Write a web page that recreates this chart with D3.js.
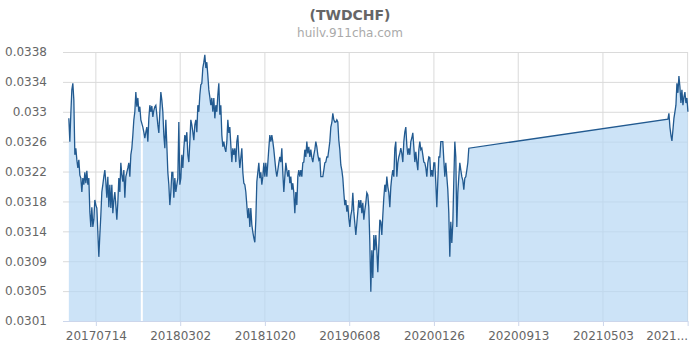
<!DOCTYPE html>
<html>
<head>
<meta charset="utf-8">
<script src="https://cdn.jsdelivr.net/npm/d3@7/dist/d3.min.js"></script>
<style>
body { margin: 0; background: #fff; }
text { font-family: "DejaVu Sans", sans-serif; }
</style>
</head>
<body>
<div id="chart"></div>
<script>
var title = "(TWDCHF)";
var subtitle = "huilv.911cha.com";

// x domain and the two runs of quotes (one every ~2.7 days)
var xStart = "20170415", xEnd = "20211222";
var startA = "20170501", startB = "20211028";
var stepDays = 2.739;

var ratesA = [
  0.03290,0.03258,0.03297,0.03329,0.03338,0.03315,0.03240,0.03249,0.03233,0.03222,0.03233,0.03212,0.03208,0.03189,0.03208,0.03199,0.03216,0.03201,0.03218,0.03199,
  0.03208,0.03162,0.03141,0.03168,0.03141,0.03151,0.03178,0.03171,0.03167,0.03134,0.03100,0.03130,0.03157,0.03189,0.03199,0.03210,0.03219,0.03203,0.03181,0.03210,
  0.03168,0.03199,0.03167,0.03199,0.03160,0.03178,0.03189,0.03171,0.03151,0.03175,0.03208,0.03189,0.03229,0.03212,0.03203,0.03219,0.03181,0.03210,0.03216,0.03222,
  0.03229,0.03210,0.03240,0.03249,0.03267,0.03288,0.03299,0.03326,0.03306,0.03318,0.03299,0.03306,0.03288,null,0.03278,0.03271,0.03263,0.03271,0.03278,0.03258,
  0.03290,0.03308,0.03299,0.03307,0.03292,0.03301,0.03306,0.03308,0.03295,0.03281,0.03270,0.03299,0.03326,0.03315,0.03299,0.03267,0.03249,0.03288,0.03253,0.03216,
  0.03199,0.03171,0.03189,0.03216,0.03216,0.03181,0.03208,0.03189,0.03199,0.03208,0.03285,0.03199,0.03208,0.03240,0.03222,0.03249,0.03267,0.03258,0.03271,0.03240,
  0.03230,0.03258,0.03288,0.03281,0.03271,0.03260,0.03281,0.03288,0.03271,0.03308,0.03299,0.03322,0.03336,0.03338,0.03359,0.03367,0.03377,0.03359,0.03367,0.03349,
  0.03329,0.03319,0.03308,0.03318,0.03299,0.03318,0.03290,0.03308,0.03299,0.03322,0.03338,0.03295,0.03308,0.03267,0.03251,0.03258,0.03249,0.03244,0.03258,0.03288,
  0.03270,0.03278,0.03253,0.03230,0.03249,0.03240,0.03249,0.03230,0.03258,0.03267,0.03240,0.03222,0.03236,0.03249,0.03216,0.03201,0.03199,0.03189,0.03171,0.03153,
  0.03167,0.03141,0.03167,0.03144,0.03134,0.03126,0.03120,0.03151,0.03203,0.03216,0.03229,0.03208,0.03216,0.03199,0.03210,0.03229,0.03210,0.03229,0.03210,0.03229,
  0.03249,0.03267,0.03258,0.03267,0.03258,0.03247,0.03233,0.03219,0.03210,0.03219,0.03229,0.03237,0.03230,0.03249,0.03215,0.03189,0.03210,0.03229,0.03219,0.03210,
  0.03219,0.03201,0.03210,0.03192,0.03201,0.03188,0.03160,0.03189,0.03171,0.03210,0.03219,0.03210,0.03219,0.03210,0.03229,0.03230,0.03247,0.03237,0.03258,0.03242,
  0.03251,0.03237,0.03247,0.03236,0.03230,0.03240,0.03247,0.03258,0.03251,0.03240,0.03233,0.03236,0.03210,0.03210,0.03210,0.03219,0.03229,0.03230,0.03237,0.03237,
  0.03247,0.03258,0.03278,0.03284,0.03297,0.03288,0.03285,0.03285,0.03288,0.03285,0.03260,0.03247,0.03226,0.03219,0.03208,0.03188,0.03171,0.03178,0.03162,0.03171,
  0.03153,0.03141,0.03157,0.03164,0.03188,0.03162,0.03146,0.03130,0.03146,0.03162,0.03178,0.03167,0.03178,0.03160,0.03174,0.03151,0.03164,0.03174,0.03188,0.03185,
  0.03168,0.03120,0.03052,0.03109,0.03071,0.03130,0.03109,0.03130,0.03109,0.03079,0.03114,0.03151,0.03148,0.03130,0.03157,0.03181,0.03199,0.03189,0.03210,0.03196,
  0.03188,0.03168,0.03196,0.03210,0.03219,0.03210,0.03249,0.03258,0.03210,0.03229,0.03237,0.03242,0.03249,0.03242,0.03230,0.03258,0.03271,0.03278,0.03253,0.03240,
  0.03249,0.03240,0.03258,0.03263,0.03270,0.03251,0.03230,0.03244,0.03230,0.03219,0.03247,0.03258,0.03247,0.03249,0.03240,0.03230,0.03229,0.03222,0.03210,0.03229,
  0.03237,0.03236,0.03210,0.03219,0.03210,0.03229,0.03229,0.03201,0.03168,0.03205,0.03237,0.03237,0.03258,0.03258,0.03258,0.03233,0.03210,0.03229,0.03210,0.03192,
  0.03160,0.03100,0.03148,0.03119,0.03146,0.03205,0.03258,0.03237,0.03141,0.03188,0.03210,0.03229,0.03219,0.03210,0.03205,0.03192,0.03208,0.03210,0.03219,0.03229,
  0.03249
];

var ratesB = [
  0.03289,0.03297,0.03278,0.03267,0.03259,0.03274,0.03290,0.03299,0.03308,0.03338,0.03325,
  0.03348,0.03333,0.03311,0.03329,0.03308,0.03319,0.03326,0.03311,0.03318,0.03299
];

var xTickLabels = ["20170714","20180302","20181020","20190608","20200126","20200913","20210503","20211221"];
var yTickLabels = ["0.0301","0.0305","0.0309","0.0314","0.0318","0.0322","0.0326","0.033","0.0334","0.0338"];
var yMin = 0.03012, yMax = 0.03381;

var width = 700, height = 350;
var margin = {top: 52, right: 12, bottom: 29, left: 63};
var parse = d3.timeParse("%Y%m%d");

function build(start, rates) {
  var t0 = parse(start);
  return rates.map(function(r, i) {
    return {date: new Date(+t0 + i * stepDays * 864e5), rate: r};
  });
}
var data = build(startA, ratesA).concat(build(startB, ratesB));

var x = d3.scaleTime()
  .domain([parse(xStart), parse(xEnd)])
  .range([margin.left, width - margin.right]);
var y = d3.scaleLinear()
  .domain([yMin, yMax])
  .range([height - margin.bottom, margin.top]);

var svg = d3.select('#chart').append('svg')
  .attr('width', width)
  .attr('height', height)
  .style('background', '#fff');

svg.append('text')
  .attr('x', width / 2).attr('y', 20)
  .attr('text-anchor', 'middle')
  .style('font-size', '14px').style('font-weight', 'bold')
  .style('fill', '#666')
  .text(title);
svg.append('text')
  .attr('x', width / 2).attr('y', 37)
  .attr('text-anchor', 'middle')
  .style('font-size', '12px')
  .style('fill', '#aaa')
  .text(subtitle);

var xTicks = xTickLabels.map(parse);
var yTicks = yTickLabels.map(function(l, i) {
  return yMin + i * (yMax - yMin) / (yTickLabels.length - 1);
});

// grid
svg.append('g').selectAll('line').data(xTicks).enter().append('line')
  .attr('x1', function(d) { return x(d); })
  .attr('x2', function(d) { return x(d); })
  .attr('y1', margin.top)
  .attr('y2', height - margin.bottom)
  .style('stroke', '#dadada');

var yAxis = svg.append('g')
  .attr('transform', 'translate(' + margin.left + ',0)')
  .call(d3.axisLeft(y).tickValues(yTicks)
    .tickSize(-(width - margin.left - margin.right))
    .tickPadding(16)
    .tickFormat(function(d, i) { return yTickLabels[i]; }));
yAxis.select('.domain').remove();
yAxis.selectAll('line').style('stroke', '#dadada');
yAxis.selectAll('text').style('fill', '#666').style('font-size', '12px')
  .style('font-family', '"DejaVu Sans", sans-serif');

// area + line
var area = d3.area()
  .defined(function(d) { return d.rate != null; })
  .x(function(d) { return x(d.date); })
  .y0(y(yMin))
  .y1(function(d) { return y(d.rate); });
svg.append('path').datum(data)
  .attr('d', area)
  .style('fill', 'rgb(183,215,243)')
  .style('fill-opacity', 0.7);

var line = d3.line()
  .x(function(d) { return x(d.date); })
  .y(function(d) { return y(d.rate); });
svg.append('path').datum(data.filter(function(d) { return d.rate != null; }))
  .attr('d', line)
  .style('fill', 'none')
  .style('stroke', '#225a90')
  .style('stroke-width', 1.3);

var xAxis = svg.append('g')
  .attr('transform', 'translate(0,' + (height - margin.bottom) + ')')
  .call(d3.axisBottom(x).tickValues(xTicks).tickSize(5).tickPadding(5)
    .tickFormat(function(d, i) {
      return i === xTickLabels.length - 1 ? xTickLabels[i].slice(0, 4) + '...' : xTickLabels[i];
    }));
xAxis.select('.domain').attr('d', 'M' + margin.left + ',0.5H' + (width - margin.right))
  .style('stroke', '#ccd6eb');
xAxis.selectAll('line').style('stroke', '#ccd6eb');
xAxis.selectAll('text').style('fill', '#666').style('font-size', '12px')
  .style('font-family', '"DejaVu Sans", sans-serif')
  .filter(function(d, i) { return i === xTickLabels.length - 1; })
  .attr('text-anchor', 'end');
</script>
</body>
</html>
